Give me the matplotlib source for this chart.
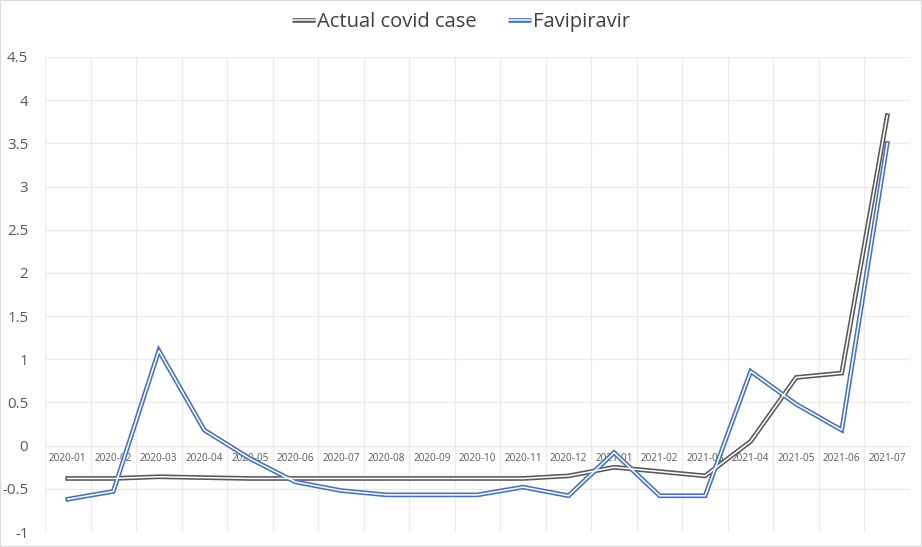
import numpy as np
import matplotlib.pyplot as plt
from matplotlib.lines import Line2D
from matplotlib.patches import Rectangle

plt.rcParams['font.family'] = ['Open Sans', 'DejaVu Sans']

months = ['2020-01', '2020-02', '2020-03', '2020-04', '2020-05', '2020-06',
          '2020-07', '2020-08', '2020-09', '2020-10', '2020-11', '2020-12',
          '2021-01', '2021-02', '2021-03', '2021-04', '2021-05', '2021-06',
          '2021-07']
actual = [-0.38, -0.38, -0.36, -0.37, -0.38, -0.38, -0.38, -0.38, -0.38,
          -0.38, -0.38, -0.35, -0.25, -0.30, -0.35, 0.05, 0.79, 0.84, 3.82]
favi = [-0.62, -0.53, 1.10, 0.18, -0.15, -0.42, -0.52, -0.57, -0.57,
        -0.57, -0.48, -0.58, -0.08, -0.58, -0.58, 0.86, 0.48, 0.18, 3.50]
yticks = [-1, -0.5, 0, 0.5, 1, 1.5, 2, 2.5, 3, 3.5, 4, 4.5]
ylabels = ['-1', '-0.5', '0', '0.5', '1', '1.5', '2', '2.5', '3', '3.5', '4', '4.5']

fig = plt.figure(figsize=(9.22, 5.47), dpi=100)
ax = fig.add_axes([0.0488, 0.0274, 0.9382, 0.8684])

x = np.arange(len(months))
handles = []
for y, c in [(actual, '#595959'), (favi, '#4472c4')]:
    ax.plot(x, y, color=c, lw=3.4, solid_joinstyle='miter', zorder=3)
    ax.plot(x, y, color='white', lw=1.1, solid_joinstyle='miter', zorder=4)
    handles.append((Line2D([], [], color=c, lw=3.4, solid_capstyle='butt'),
                    Line2D([], [], color='white', lw=1.1, solid_capstyle='butt')))

ax.set_xlim(-0.5, len(months) - 0.5)
ax.set_ylim(-1, 4.5)
ax.set_yticks(yticks)
ax.set_yticklabels(ylabels)
ax.set_xticks(x)
ax.set_xticklabels(months)
ax.set_xticks(np.arange(-0.5, len(months), 1), minor=True)

for s in ['top', 'right', 'left']:
    ax.spines[s].set_visible(False)
ax.spines['bottom'].set_position(('data', 0))
ax.spines['bottom'].set_visible(False)

ax.grid(axis='y', color='#ececec', lw=1, zorder=0)
ax.grid(axis='x', which='minor', color='#ececec', lw=1, zorder=0)
ax.grid(axis='x', which='major', visible=False)
ax.tick_params(axis='x', which='both', length=0, labelsize=7.2, labelcolor='#595959', pad=5)
ax.tick_params(axis='y', length=0, labelsize=10.8, labelcolor='#595959', pad=12)

fig.legend(handles, ['Actual covid case', 'Favipiravir'], loc='upper center',
           bbox_to_anchor=(0.5, 1.012), ncol=2, frameon=False, fontsize=14.5,
           labelcolor='#404040', handlelength=1.1, handletextpad=0.1, columnspacing=1.6)

fig.patches.append(Rectangle((0, 0), 1, 1, transform=fig.transFigure, fill=False,
                             edgecolor='#d9d9d9', lw=1.5))

fig.savefig('out.png', dpi=100)
